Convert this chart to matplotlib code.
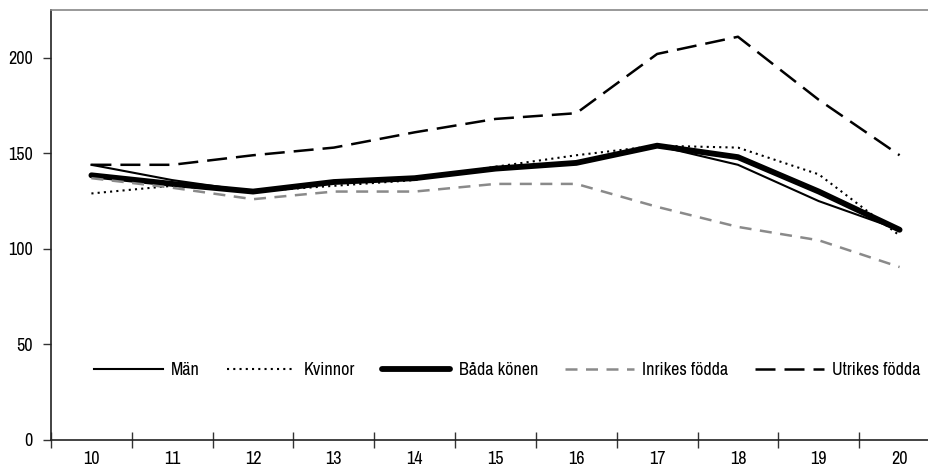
import matplotlib

matplotlib.use("Agg")
import matplotlib.pyplot as plt
import numpy as np

plt.rcParams["font.family"] = ["Archivo Narrow", "DejaVu Sans"]

years = ["10", "11", "12", "13", "14", "15", "16", "17", "18", "19", "20"]
man = [144, 136, 130, 135.5, 137, 142, 145, 154, 144, 125, 110]
kvinnor = [129, 133, 130, 133, 136, 143, 149, 154, 153, 139, 107]
bada = [138.5, 134, 130, 135, 137, 142, 145, 154, 148, 130, 110]
inrikes = [137, 132, 126, 130, 130, 134, 134, 122, 111.5, 104.5, 90.5]
utrikes = [144, 144, 149, 153, 161, 168, 171, 202, 211, 178, 149]

x = np.arange(len(years))

fig = plt.figure(figsize=(9.29, 4.70), dpi=100)
ax = fig.add_axes([51 / 929, 1 - 440 / 470, (940 - 51) / 929, 430 / 470])

ax.plot(x, man, color="black", lw=1.5, label="Män")
ax.plot(x, kvinnor, color="black", lw=1.5, ls=(0, (1, 2)), dash_capstyle="butt", label="Kvinnor")
ax.plot(x, bada, color="black", lw=4.2, solid_capstyle="round", label="Båda könen")
ax.plot(x, inrikes, color="#8a8a8a", lw=1.8, ls=(0, (4.8, 3.4)), label="Inrikes födda")
ax.plot(x, utrikes, color="black", lw=1.8, ls=(0, (8, 3.6)), label="Utrikes födda")

ax.set_xlim(-0.5, len(years) - 0.5)
ax.set_ylim(0, 225)
ax.set_yticks([0, 50, 100, 150, 200])

# category labels centered, tick marks between categories
ax.set_xticks(x)
ax.set_xticklabels(years)
ax.set_xticks(np.arange(-0.5, len(years), 1.0), minor=True)
ax.tick_params(axis="x", which="major", length=0, pad=8, labelsize=13)
ax.tick_params(axis="x", which="minor", length=12, direction="inout", width=1, color="#333333")
ax.tick_params(axis="y", length=6, width=1, color="#333333", pad=7, labelsize=13)

for side in ("left", "bottom"):
    ax.spines[side].set_color("#222222")
    ax.spines[side].set_linewidth(1.2)
ax.spines["top"].set_color("#888888")
ax.spines["top"].set_linewidth(1.2)
ax.spines["right"].set_visible(False)

ax.legend(
    loc="center",
    bbox_to_anchor=(507 / 929, 1 - 370 / 470),
    bbox_transform=fig.transFigure,
    ncol=5,
    frameon=False,
    fontsize=13,
    handlelength=3.8,
    handletextpad=0.45,
    columnspacing=1.5,
)

fig.savefig("out.png", dpi=100)
plt.close(fig)
